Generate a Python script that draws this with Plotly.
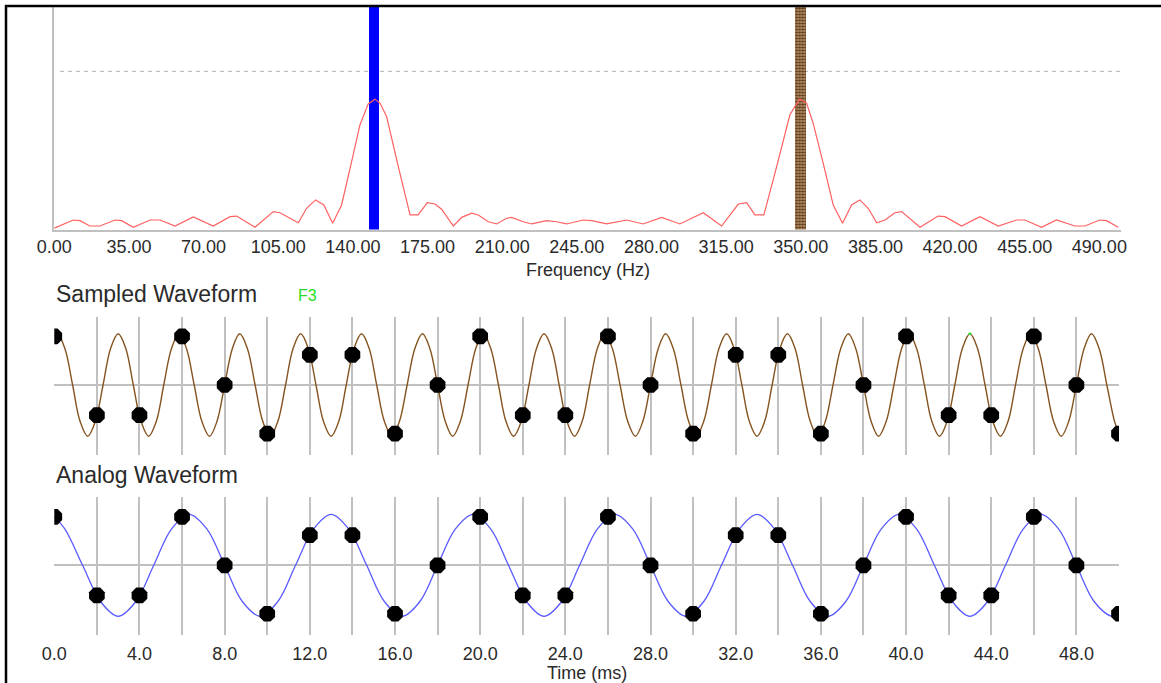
import plotly.graph_objects as go

# ---------------- data ----------------
# Spectrum (magnitude relative to the dashed reference level = 1.0)
SPEC_F = [0.0, 8.9, 12.0, 16.7, 21.4, 28.5, 31.6, 37.0, 44.9, 49.6, 56.6, 65.2, 74.5, 82.4, 85.5,
          94.1, 102.7, 105.8, 114.4, 118.3, 122.5, 126.4, 130.5, 134.7, 139.4, 143.3, 147.2, 150.3,
          152.7, 155.8, 161.3, 166.8, 170.6, 174.9, 178.5, 181.6, 187.1, 191.0, 195.7, 198.8, 203.5,
          207.4, 212.1, 214.4, 219.9, 223.8, 230.8, 235.5, 240.2, 248.0, 252.0, 259.0, 268.4, 276.1,
          284.8, 293.3, 304.3, 312.9, 320.7, 324.6, 328.5, 332.7, 337.9, 341.8, 344.9, 347.7, 349.6,
          352.7, 355.8, 360.5, 365.2, 369.6, 373.8, 377.7, 381.6, 385.6, 389.5, 394.1, 397.3, 405.9,
          414.4, 417.6, 425.4, 434.0, 442.6, 451.2, 455.1, 462.9, 469.9, 478.5, 483.2, 490.2, 493.4,
          498.8]
SPEC_MAG = [0.009, 0.060, 0.056, 0.022, 0.022, 0.060, 0.056, 0.014, 0.060, 0.060, 0.022, 0.079, 0.022,
            0.081, 0.085, 0.014, 0.113, 0.106, 0.043, 0.134, 0.187, 0.155, 0.039, 0.155, 0.429, 0.661,
            0.794, 0.824, 0.799, 0.714, 0.397, 0.092, 0.092, 0.170, 0.161, 0.128, 0.022, 0.077, 0.103,
            0.092, 0.049, 0.035, 0.071, 0.077, 0.049, 0.035, 0.056, 0.049, 0.035, 0.060, 0.056, 0.035,
            0.060, 0.035, 0.077, 0.035, 0.106, 0.022, 0.161, 0.170, 0.092, 0.092, 0.356, 0.566, 0.725,
            0.788, 0.824, 0.799, 0.672, 0.419, 0.155, 0.039, 0.155, 0.187, 0.134, 0.043, 0.060, 0.106,
            0.113, 0.014, 0.085, 0.081, 0.022, 0.081, 0.022, 0.060, 0.060, 0.014, 0.060, 0.022, 0.022,
            0.060, 0.056, 0.014]
SPEC_TICKS = [0, 35, 70, 105, 140, 175, 210, 245, 280, 315, 350, 385, 420, 455, 490]
SPEC_TICK_TEXT = ["0.00", "35.00", "70.00", "105.00", "140.00", "175.00", "210.00", "245.00",
                  "280.00", "315.00", "350.00", "385.00", "420.00", "455.00", "490.00"]
ANALOG_FREQ_HZ = 150
ALIAS_FREQ_HZ = 350
REF_LEVEL = 1.0

# Analog waveform (blue) (ms, relative amplitude)
ANALOG_T = [0.0, 0.50, 1.33, 2.17, 3.00, 3.83, 4.67, 5.50, 6.33, 7.17, 8.00, 8.83, 9.67, 10.50, 11.33,
            12.17, 13.00, 13.83, 14.67, 15.50, 16.33, 17.17, 18.00, 18.83, 19.67, 20.50, 21.33, 22.17,
            23.00, 23.83, 24.67, 25.50, 26.33, 27.17, 28.00, 28.83, 29.67, 30.50, 31.33, 32.17, 33.00,
            33.83, 34.67, 35.50, 36.33, 37.17, 38.00, 38.83, 39.67, 40.50, 41.33, 42.17, 43.00, 43.83,
            44.67, 45.50, 46.33, 47.17, 48.00, 48.83, 49.67, 50.0]
ANALOG_V = [0.95,
            0.71, 0, -0.71, -1, -0.71, 0, 0.71, 1,
            0.71, 0, -0.71, -1, -0.71, 0, 0.71, 1,
            0.71, 0, -0.71, -1, -0.71, 0, 0.71, 1,
            0.71, 0, -0.71, -1, -0.71, 0, 0.71, 1,
            0.71, 0, -0.71, -1, -0.71, 0, 0.71, 1,
            0.71, 0, -0.71, -1, -0.71, 0, 0.71, 1,
            0.71, 0, -0.71, -1, -0.71, 0, 0.71, 1,
            0.71, 0, -0.71, -1,
            -0.95]

# Sampled (aliased) waveform (brown)
ALIAS_T = [0.0,
           0.14, 0.50, 0.86, 1.21, 1.57, 1.93, 2.29, 2.64, 3.00, 3.36, 3.71, 4.07, 4.43, 4.79,
           5.14, 5.50, 5.86, 6.21, 6.57, 6.93, 7.29, 7.64, 8.00, 8.36, 8.71, 9.07, 9.43, 9.79,
           10.14, 10.50, 10.86, 11.21, 11.57, 11.93, 12.29, 12.64, 13.00, 13.36, 13.71, 14.07, 14.43, 14.79,
           15.14, 15.50, 15.86, 16.21, 16.57, 16.93, 17.29, 17.64, 18.00, 18.36, 18.71, 19.07, 19.43, 19.79,
           20.14, 20.50, 20.86, 21.21, 21.57, 21.93, 22.29, 22.64, 23.00, 23.36, 23.71, 24.07, 24.43, 24.79,
           25.14, 25.50, 25.86, 26.21, 26.57, 26.93, 27.29, 27.64, 28.00, 28.36, 28.71, 29.07, 29.43, 29.79,
           30.14, 30.50, 30.86, 31.21, 31.57, 31.93, 32.29, 32.64, 33.00, 33.36, 33.71, 34.07, 34.43, 34.79,
           35.14, 35.50, 35.86, 36.21, 36.57, 36.93, 37.29, 37.64, 38.00, 38.36, 38.71, 39.07, 39.43, 39.79,
           40.14, 40.50, 40.86, 41.21, 41.57, 41.93, 42.29, 42.64, 43.00, 43.36, 43.71, 44.07, 44.43, 44.79,
           45.14, 45.50, 45.86, 46.21, 46.57, 46.93, 47.29, 47.64, 48.00, 48.36, 48.71, 49.07, 49.43, 49.79,
           50.0]
ALIAS_V = [0.95,
           1, 0.71, 0, -0.71, -1, -0.71, 0, 0.71,
           1, 0.71, 0, -0.71, -1, -0.71, 0, 0.71,
           1, 0.71, 0, -0.71, -1, -0.71, 0, 0.71,
           1, 0.71, 0, -0.71, -1, -0.71, 0, 0.71,
           1, 0.71, 0, -0.71, -1, -0.71, 0, 0.71,
           1, 0.71, 0, -0.71, -1, -0.71, 0, 0.71,
           1, 0.71, 0, -0.71, -1, -0.71, 0, 0.71,
           1, 0.71, 0, -0.71, -1, -0.71, 0, 0.71,
           1, 0.71, 0, -0.71, -1, -0.71, 0, 0.71,
           1, 0.71, 0, -0.71, -1, -0.71, 0, 0.71,
           1, 0.71, 0, -0.71, -1, -0.71, 0, 0.71,
           1, 0.71, 0, -0.71, -1, -0.71, 0, 0.71,
           1, 0.71, 0, -0.71, -1, -0.71, 0, 0.71,
           1, 0.71, 0, -0.71, -1, -0.71, 0, 0.71,
           1, 0.71, 0, -0.71, -1, -0.71, 0, 0.71,
           1, 0.71, 0, -0.71, -1, -0.71, 0, 0.71,
           1, 0.71, 0, -0.71, -1, -0.71, 0, 0.71,
           1, 0.71, 0, -0.71,
           -0.95]

# Sample points (every 2 ms)
SAMPLE_T = [0, 2, 4, 6, 8, 10, 12, 14, 16, 18, 20, 22, 24, 26, 28, 30, 32, 34, 36, 38, 40, 42, 44, 46, 48, 50]
SAMPLE_V = [0.95, -0.59, -0.59, 0.95, 0.0, -0.95, 0.59, 0.59, -0.95, 0.0,
            0.95, -0.59, -0.59, 0.95, 0.0, -0.95, 0.59, 0.59, -0.95, 0.0,
            0.95, -0.59, -0.59, 0.95, 0.0, -0.95]
MARK_F3_T = [43.0]
MARK_F3_V = [1.0]

TIME_TICKS = [0, 2, 4, 6, 8, 10, 12, 14, 16, 18, 20, 22, 24, 26, 28, 30, 32, 34, 36, 38, 40, 42, 44, 46, 48, 50]
TIME_TICK_TEXT = ["0.0", "", "4.0", "", "8.0", "", "12.0", "", "16.0", "", "20.0", "", "24.0", "",
                  "28.0", "", "32.0", "", "36.0", "", "40.0", "", "44.0", "", "48.0", ""]

# ---------------- layout helpers (pixel geometry) ----------------
W, H = 1161, 683
def px_x(x):
    return x / W
def px_y(y):
    return 1 - y / H

FONT = "Liberation Sans, Arial, sans-serif"
TXT = "#2a2a2a"
GRID = "#c0c0c0"

fig = go.Figure()

# Spectrum bars (analog frequency and alias)
SPEC_TOP = (229.5 - 7) / 158.2
fig.add_trace(go.Bar(x=[ANALOG_FREQ_HZ], y=[SPEC_TOP], width=4.7, marker=dict(color="#0000ff", line=dict(width=0)),
                     xaxis="x", yaxis="y", hoverinfo="skip"))
fig.add_trace(go.Bar(x=[ALIAS_FREQ_HZ], y=[SPEC_TOP], width=5.0,
                     marker=dict(color="#b38b63", line=dict(width=0),
                                 pattern=dict(shape=".", fgcolor="#5e3a18", bgcolor="#c8a47e", size=3, solidity=0.6)),
                     xaxis="x", yaxis="y", hoverinfo="skip"))
# Spectrum line
fig.add_trace(go.Scatter(x=SPEC_F, y=SPEC_MAG, mode="lines", line=dict(color="#ff6060", width=1.2),
                         xaxis="x", yaxis="y", hoverinfo="skip"))

# Sampled waveform panel
fig.add_trace(go.Scatter(x=ALIAS_T, y=ALIAS_V, mode="lines", line=dict(color="#85531f", width=1.4, shape="spline", smoothing=1.0),
                         xaxis="x2", yaxis="y2", hoverinfo="skip"))
fig.add_trace(go.Scatter(x=MARK_F3_T, y=MARK_F3_V, mode="markers", marker=dict(color="#33dd33", size=3),
                         xaxis="x2", yaxis="y2", hoverinfo="skip"))
fig.add_trace(go.Scatter(x=SAMPLE_T, y=SAMPLE_V, mode="markers", marker=dict(color="black", size=17, symbol="octagon", line=dict(width=0)),
                         xaxis="x2", yaxis="y2", hoverinfo="skip"))

# Analog waveform panel
fig.add_trace(go.Scatter(x=ANALOG_T, y=ANALOG_V, mode="lines", line=dict(color="#5a5aff", width=1.3, shape="spline", smoothing=1.0),
                         xaxis="x3", yaxis="y3", hoverinfo="skip"))
fig.add_trace(go.Scatter(x=SAMPLE_T, y=SAMPLE_V, mode="markers", marker=dict(color="black", size=17, symbol="octagon", line=dict(width=0)),
                         xaxis="x3", yaxis="y3", hoverinfo="skip"))

tickfont = dict(family=FONT, size=18, color=TXT)

fig.update_layout(
    template="none",
    width=W, height=H, autosize=False,
    margin=dict(l=0, r=0, t=0, b=0, pad=0),
    paper_bgcolor="white", plot_bgcolor="white",
    showlegend=False, bargap=0,
    xaxis=dict(domain=[px_x(54.3), px_x(1120.7)], range=[0, 500], anchor="y", automargin=False,
               tickmode="array", tickvals=SPEC_TICKS, ticktext=SPEC_TICK_TEXT, tickfont=tickfont,
               ticks="",
               showline=True, linecolor=GRID, linewidth=2, showgrid=False, zeroline=False),
    yaxis=dict(domain=[px_y(229.5), px_y(7)], range=[0, SPEC_TOP], anchor="x", automargin=False,
               showline=True, linecolor=GRID, linewidth=1.5, showgrid=False, zeroline=False,
               showticklabels=False, ticks=""),
    xaxis2=dict(domain=[px_x(54.3), px_x(1119)], range=[0, 50], anchor="y2", automargin=False,
                tickmode="array", tickvals=TIME_TICKS, showticklabels=False, ticks="",
                showgrid=True, gridcolor=GRID, gridwidth=1.5, zeroline=False, showline=False),
    yaxis2=dict(domain=[px_y(455), px_y(316.7)], range=[-(455 - 385) / 51.2, (385 - 316.7) / 51.2], anchor="x2",
                automargin=False, showgrid=False, zeroline=True, zerolinecolor=GRID, zerolinewidth=1.5,
                showticklabels=False, ticks="", showline=False),
    xaxis3=dict(domain=[px_x(54.3), px_x(1119)], range=[0, 50], anchor="y3", automargin=False,
                tickmode="array", tickvals=TIME_TICKS, ticktext=TIME_TICK_TEXT, tickfont=tickfont,
                ticks="outside", ticklen=2, tickcolor="rgba(0,0,0,0)",
                showgrid=True, gridcolor=GRID, gridwidth=1.5, zeroline=False, showline=False),
    yaxis3=dict(domain=[px_y(635), px_y(496.7)], range=[-(635 - 565.3) / 51, (565.3 - 496.7) / 51], anchor="x3",
                automargin=False, showgrid=False, zeroline=True, zerolinecolor=GRID, zerolinewidth=1.5,
                showticklabels=False, ticks="", showline=False),
)

# dashed reference level in spectrum
fig.add_shape(type="line", xref="paper", yref="y", x0=px_x(60), x1=px_x(1121), y0=REF_LEVEL, y1=REF_LEVEL,
              line=dict(color="#b0b0b0", width=1, dash="4px,4px"), layer="below")

# frame
fig.add_shape(type="line", xref="paper", yref="paper", x0=px_x(6), x1=px_x(6), y0=0, y1=px_y(5),
              line=dict(color="black", width=2.5))
fig.add_shape(type="line", xref="paper", yref="paper", x0=px_x(5), x1=1, y0=px_y(6), y1=px_y(6),
              line=dict(color="black", width=2.5))

ann = [
    dict(text="Frequency (Hz)", x=px_x(588), y=px_y(270), font=dict(family=FONT, size=18, color=TXT)),
    dict(text="Time (ms)", x=px_x(587), y=px_y(673), font=dict(family=FONT, size=18, color=TXT)),
    dict(text="Sampled Waveform", x=px_x(54), y=px_y(294), xanchor="left", font=dict(family=FONT, size=23, color=TXT)),
    dict(text="F3", x=px_x(296), y=px_y(295), xanchor="left", font=dict(family=FONT, size=16, color="#22dd22")),
    dict(text="Analog Waveform", x=px_x(54), y=px_y(475), xanchor="left", font=dict(family=FONT, size=23, color=TXT)),
]
for a in ann:
    a.setdefault("xanchor", "center")
    fig.add_annotation(xref="paper", yref="paper", yanchor="middle", showarrow=False, **a)

fig.write_html("out.html", config={"displayModeBar": False},
               post_script="document.body.style.margin='0';document.body.style.overflow='hidden';")
